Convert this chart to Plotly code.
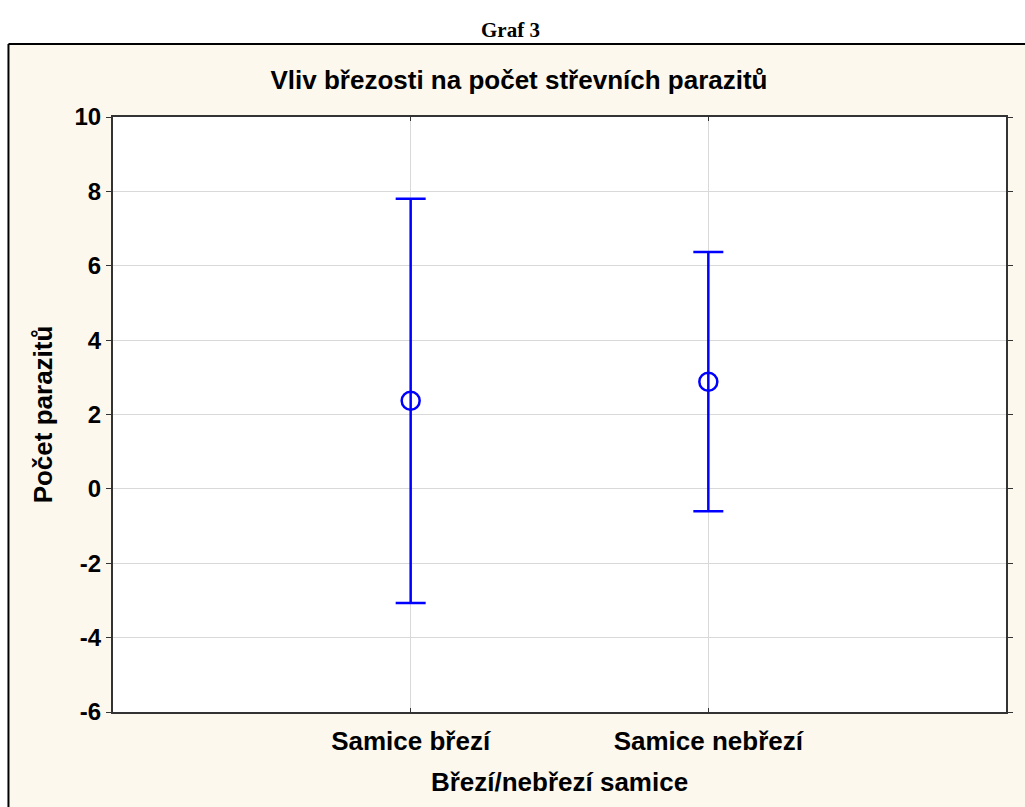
import plotly.graph_objects as go

categories = ["Samice březí", "Samice nebřezí"]
means = [2.37, 2.88]
upper = [7.80, 6.37]
lower = [-3.07, -0.60]

y_ticks = [-6, -4, -2, 0, 2, 4, 6, 8, 10]
y_labels = [str(v) for v in y_ticks]  # plain hyphen, not the unicode minus

err_plus = [u - m for u, m in zip(upper, means)]
err_minus = [m - l for m, l in zip(means, lower)]

blue = "#0000FF"
beige = "#FDF8EE"
font_name = "Liberation Sans, Arial, sans-serif"

fig = go.Figure()

fig.add_trace(go.Scatter(
    x=categories, y=means, mode="markers",
    marker=dict(symbol="circle-open", size=18, color=blue, line=dict(width=2.5, color=blue)),
    error_y=dict(type="data", symmetric=False, array=err_plus, arrayminus=err_minus,
                 color=blue, thickness=2.5, width=15),
    showlegend=False,
))

# plot area: x 113..1010 px, y 117..712 px
L, R, T, B = 113, 15, 117, 95
pw = 1025 - L - R
ph = 807 - T - B

def px_x(p):
    return (p - L) / pw

def px_y(p):
    return 1 - (p - T) / ph

# white outside the beige frame (top strip and left strip), then the frame lines
fig.add_shape(type="rect", xref="paper", yref="paper", layer="below",
              x0=px_x(-10), x1=px_x(1040), y0=px_y(44), y1=px_y(-10),
              fillcolor="white", line=dict(width=0))
fig.add_shape(type="rect", xref="paper", yref="paper", layer="below",
              x0=px_x(-10), x1=px_x(8), y0=px_y(820), y1=px_y(44),
              fillcolor="white", line=dict(width=0))
fig.add_shape(type="line", xref="paper", yref="paper",
              x0=px_x(8), x1=px_x(1040), y0=px_y(44), y1=px_y(44),
              line=dict(color="black", width=2))
fig.add_shape(type="line", xref="paper", yref="paper",
              x0=px_x(8), x1=px_x(8), y0=px_y(44), y1=px_y(820),
              line=dict(color="black", width=2))

fig.add_annotation(text="Graf 3", xref="paper", yref="paper",
                   x=px_x(512), y=px_y(30), showarrow=False, yanchor="middle",
                   font=dict(family="Liberation Serif, Times New Roman, serif", size=21,
                             color="black", weight="bold"))

fig.update_layout(
    width=1025, height=807,
    margin=dict(l=L, r=R, t=T, b=B),
    paper_bgcolor=beige, plot_bgcolor="white",
    font=dict(family=font_name, color="black", weight="bold"),
    title=dict(text="Vliv březosti na počet střevních parazitů", x=519 / 1025, xref="container",
               y=1 - 80 / 807, yref="container", yanchor="middle", xanchor="center",
               font=dict(size=26, weight="bold", family=font_name)),
)

fig.update_xaxes(
    type="category", range=[-1, 2],
    showgrid=True, gridcolor="#D9D9D9", gridwidth=1,
    showline=True, linecolor="#333333", linewidth=2, mirror="ticks",
    ticks="inside", ticklen=4, tickcolor="#333333",
    tickfont=dict(size=26, weight="bold"), ticklabelstandoff=5,
    title=dict(text="Březí/nebřezí samice", font=dict(size=26, weight="bold"), standoff=18),
)
fig.update_yaxes(
    range=[-6, 10], tickvals=y_ticks, ticktext=y_labels,
    showgrid=True, gridcolor="#D9D9D9", gridwidth=1, zeroline=False,
    showline=True, linecolor="#333333", linewidth=2, mirror="ticks",
    ticks="outside", ticklen=5, tickcolor="#333333",
    tickfont=dict(size=24, weight="bold"),
    title=dict(text="Počet parazitů", font=dict(size=26, weight="bold"), standoff=14),
)

fig.write_html("out.html", config={"displayModeBar": False},
               post_script="document.body.style.margin='0';")
